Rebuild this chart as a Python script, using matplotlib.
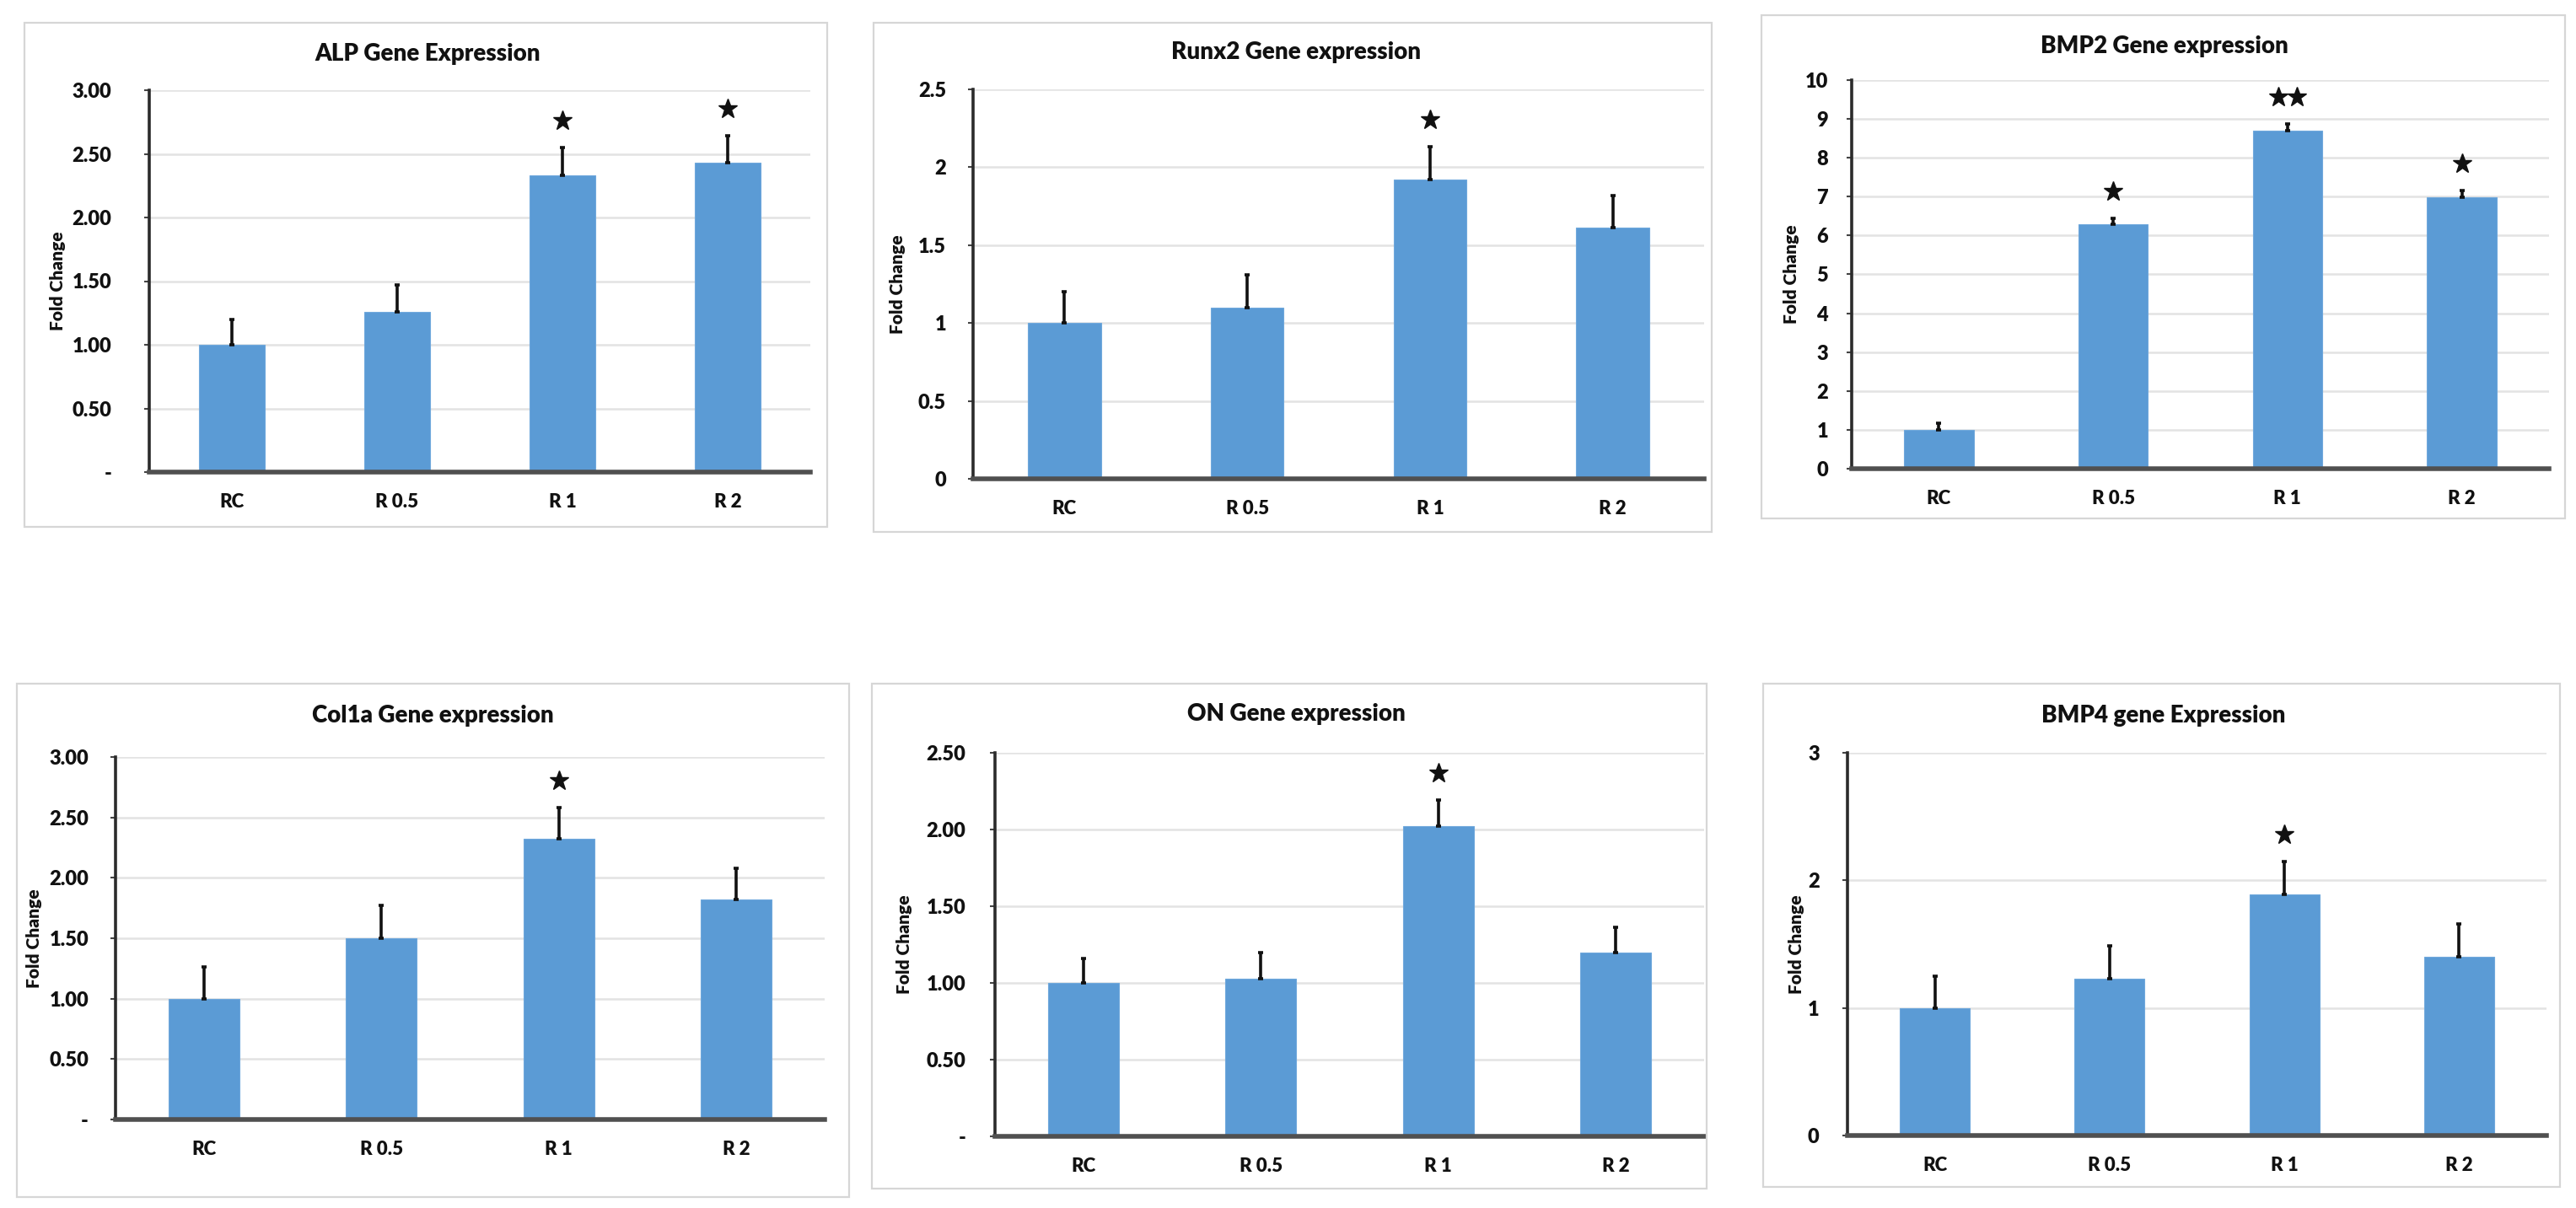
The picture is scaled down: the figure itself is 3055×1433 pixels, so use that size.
import matplotlib
matplotlib.use("Agg")
import matplotlib.pyplot as plt
import matplotlib.transforms as mtransforms
from matplotlib.patches import Rectangle

plt.rcParams['font.family'] = ['Lato', 'DejaVu Sans']
plt.rcParams['font.weight'] = 'bold'

# ---------------- data ----------------
categories = ["RC", "R 0.5", "R 1", "R 2"]

alp_mean = [1.00, 1.26, 2.33, 2.43]
alp_err = [0.20, 0.21, 0.22, 0.21]
alp_sig = ["", "", "*", "*"]

runx2_mean = [1.00, 1.10, 1.92, 1.61]
runx2_err = [0.20, 0.21, 0.21, 0.21]
runx2_sig = ["", "", "*", ""]

bmp2_mean = [1.00, 6.28, 8.70, 6.99]
bmp2_err = [0.18, 0.16, 0.18, 0.16]
bmp2_sig = ["", "*", "**", "*"]

col1a_mean = [1.00, 1.50, 2.32, 1.82]
col1a_err = [0.26, 0.27, 0.26, 0.26]
col1a_sig = ["", "", "*", ""]

on_mean = [1.00, 1.03, 2.02, 1.20]
on_err = [0.16, 0.17, 0.17, 0.16]
on_sig = ["", "", "*", ""]

bmp4_mean = [1.00, 1.23, 1.89, 1.40]
bmp4_err = [0.25, 0.26, 0.26, 0.26]
bmp4_sig = ["", "", "*", ""]

titles = ["ALP Gene Expression", "Runx2 Gene expression", "BMP2 Gene expression",
          "Col1a Gene expression", "ON Gene expression", "BMP4 gene Expression"]

alp_ticks = [0, 0.5, 1.0, 1.5, 2.0, 2.5, 3.0]
alp_ticklabels = ["-", "0.50", "1.00", "1.50", "2.00", "2.50", "3.00"]
runx2_ticks = [0, 0.5, 1.0, 1.5, 2.0, 2.5]
runx2_ticklabels = ["0", "0.5", "1", "1.5", "2", "2.5"]
bmp2_ticks = [0, 1, 2, 3, 4, 5, 6, 7, 8, 9, 10]
bmp2_ticklabels = ["0", "1", "2", "3", "4", "5", "6", "7", "8", "9", "10"]
col1a_ticks = [0, 0.5, 1.0, 1.5, 2.0, 2.5, 3.0]
col1a_ticklabels = ["-", "0.50", "1.00", "1.50", "2.00", "2.50", "3.00"]
on_ticks = [0, 0.5, 1.0, 1.5, 2.0, 2.5]
on_ticklabels = ["-", "0.50", "1.00", "1.50", "2.00", "2.50"]
bmp4_ticks = [0, 1, 2, 3]
bmp4_ticklabels = ["0", "1", "2", "3"]

ylabel = "Fold Change"

# ---------------- layout (pixels) ----------------
W, H = 3055, 1433
DPI = 100
fig = plt.figure(figsize=(W / DPI, H / DPI), dpi=DPI)
fig.patch.set_facecolor("white")

panels = [
    dict(box=(29, 27, 981, 625), ax=(177, 961, 107, 560), title=(507, 64), ylx=69, pad=28,
         mean=alp_mean, err=alp_err, sig=alp_sig, ticks=alp_ticks, tl=alp_ticklabels),
    dict(box=(1036, 27, 2030, 631), ax=(1154, 2021, 106, 568), title=(1537, 62), ylx=1064, pad=19,
         mean=runx2_mean, err=runx2_err, sig=runx2_sig, ticks=runx2_ticks, tl=runx2_ticklabels),
    dict(box=(2089, 18, 3042, 615), ax=(2196, 3023, 95, 556), title=(2567, 55), ylx=2125, pad=16,
         mean=bmp2_mean, err=bmp2_err, sig=bmp2_sig, ticks=bmp2_ticks, tl=bmp2_ticklabels),
    dict(box=(20, 811, 1007, 1420), ax=(137, 978, 898, 1328), title=(513, 849), ylx=41, pad=19,
         mean=col1a_mean, err=col1a_err, sig=col1a_sig, ticks=col1a_ticks, tl=col1a_ticklabels),
    dict(box=(1034, 811, 2024, 1410), ax=(1180, 2021, 893, 1348), title=(1537, 847), ylx=1072, pad=21,
         mean=on_mean, err=on_err, sig=on_sig, ticks=on_ticks, tl=on_ticklabels),
    dict(box=(2091, 811, 3036, 1408), ax=(2191, 3020, 893, 1347), title=(2566, 849), ylx=2131, pad=20,
         mean=bmp4_mean, err=bmp4_err, sig=bmp4_sig, ticks=bmp4_ticks, tl=bmp4_ticklabels),
]

BAR_COLOR = "#5B9BD5"
GRID_COLOR = "#E3E3E3"
TXT = "#111111"
WEIGHT = "heavy"

for p, title in zip(panels, titles):
    bx0, by0, bx1, by1 = p["box"]
    fig.add_artist(Rectangle((bx0 / W, 1 - by1 / H), (bx1 - bx0) / W, (by1 - by0) / H,
                             transform=fig.transFigure, fill=False,
                             edgecolor="#D6D6D6", linewidth=1.6))
    ax0, ax1, yt, yb = p["ax"]
    ax = fig.add_axes([ax0 / W, 1 - yb / H, (ax1 - ax0) / W, (yb - yt) / H])
    ax.set_facecolor("none")
    x = list(range(len(categories)))
    ax.bar(x, p["mean"], width=0.4, color=BAR_COLOR, edgecolor="#6FA8DC",
           linewidth=0.8, zorder=2)
    ax.errorbar(x, p["mean"], yerr=[[0] * len(x), p["err"]], fmt="none",
                ecolor=TXT, elinewidth=2.6, capsize=2, capthick=2.6, zorder=3)
    ymax = p["ticks"][-1]
    ax.set_ylim(0, ymax)
    ax.set_xlim(-0.5, len(x) - 0.5)
    ax.set_yticks(p["ticks"])
    ax.set_yticklabels(p["tl"], fontsize=17, fontweight=WEIGHT, color=TXT)
    ax.set_xticks(x)
    ax.set_xticklabels(categories, fontsize=16, fontweight=WEIGHT, color=TXT)
    ax.tick_params(axis="x", length=0, pad=18)
    ax.tick_params(axis="y", length=4, width=1.5, color="#444444", pad=p["pad"])
    for t in p["ticks"][1:]:
        ax.axhline(t, color=GRID_COLOR, linewidth=1.8, zorder=0)
    for s in ["top", "right"]:
        ax.spines[s].set_visible(False)
    ax.spines["left"].set_color("#2b2b2b")
    ax.spines["left"].set_linewidth(2.6)
    ax.spines["bottom"].set_color("#505050")
    ax.spines["bottom"].set_linewidth(4.0)
    ax.spines["bottom"].set_zorder(4)

    # significance stars
    for i, s in enumerate(p["sig"]):
        if not s:
            continue
        top = p["mean"][i] + p["err"][i]
        n = len(s)
        for k in range(n):
            dx = (k - (n - 1) / 2) * 16
            tr = ax.transData + mtransforms.ScaledTranslation(dx / 72, 23 / 72, fig.dpi_scale_trans)
            ax.plot([i], [top], marker="*", markersize=17, color=TXT,
                    linestyle="none", transform=tr, zorder=5, clip_on=False)

    cx, cy = p["title"]
    fig.text(cx / W, 1 - cy / H, title, ha="center", va="center",
             fontsize=20, fontweight=WEIGHT, color=TXT)
    fig.text(p["ylx"] / W, 1 - ((yt + yb) / 2) / H, ylabel, ha="center", va="center",
             rotation=90, fontsize=15, fontweight=WEIGHT, color=TXT)

fig.savefig("out.png", dpi=DPI, facecolor="white")
